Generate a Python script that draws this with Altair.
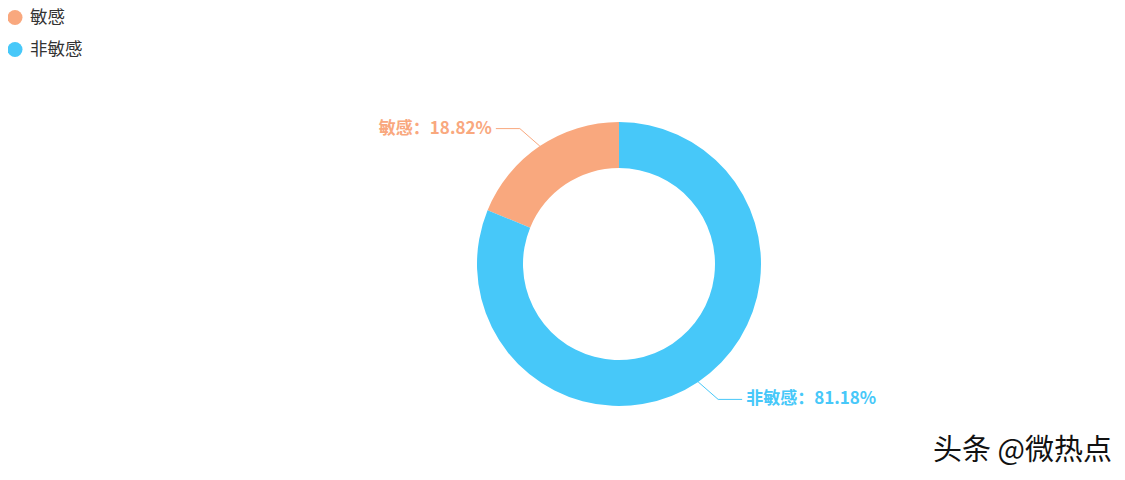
import math
import pandas as pd
import altair as alt

# ---- data ----
categories = ["敏感", "非敏感"]
values = [18.82, 81.18]          # percent
colors = ["#f9a87e", "#47c8f9"]
draw_order = [2, 1]              # 非敏感 drawn first clockwise from 12 o'clock
watermark = "头条 @微热点"

# ---- layout constants ----
W, H = 1109, 460
CX, CY = 611, 256
R_OUT, R_IN = 142, 96
FONT = "Noto Sans CJK SC"

df = pd.DataFrame({"cat": categories, "value": values, "ord": draw_order,
                   "label": [f"{c}：{v:.2f}%" for c, v in zip(categories, values)]})

# mid-angles (clockwise from top), following the stacking order
total = sum(values)
cum = 0.0
mid = {}
for _, row in df.sort_values("ord").iterrows():
    a0 = cum / total * 2 * math.pi
    cum += row["value"]
    a1 = cum / total * 2 * math.pi
    mid[row["cat"]] = (a0 + a1) / 2

line_rows, text_rows = [], []
for _, row in df.iterrows():
    a = mid[row["cat"]]
    sx, sy = math.sin(a), -math.cos(a)
    x0, y0 = CX + R_OUT * sx, CY + R_OUT * sy
    hx = 1 if sx >= 0 else -1
    vy = 1 if sy >= 0 else -1
    x1, y1 = x0 + hx * 20, y0 + vy * 17.5
    x2 = x1 + hx * 24
    for i, (px, py) in enumerate([(x0, y0), (x1, y1), (x2, y1)]):
        line_rows.append({"cat": row["cat"], "i": i, "px": px, "py": py})
    text_rows.append({"cat": row["cat"], "label": row["label"],
                      "px": x2 + hx * 4, "py": y1,
                      "align": "left" if hx > 0 else "right"})
lines = pd.DataFrame(line_rows)
texts = pd.DataFrame(text_rows)

color_scale = alt.Scale(domain=categories, range=colors)
xs = alt.Scale(domain=[0, W], range=[0, W], nice=False, zero=False)
ys = alt.Scale(domain=[0, H], range=[0, H], nice=False, zero=False)

arcs = alt.Chart(df).mark_arc(outerRadius=R_OUT, innerRadius=R_IN).encode(
    theta=alt.Theta("value:Q", stack=True),
    order=alt.Order("ord:Q"),
    color=alt.Color("cat:N", scale=color_scale, legend=None),
    x=alt.value(CX), y=alt.value(CY),
)

leader = alt.Chart(lines).mark_line(strokeWidth=1).encode(
    x=alt.X("px:Q", scale=xs, axis=None),
    y=alt.Y("py:Q", scale=ys, axis=None),
    detail="cat:N",
    order="i:Q",
    color=alt.Color("cat:N", scale=color_scale, legend=None),
)

def label_layer(align):
    return alt.Chart(texts[texts["align"] == align]).mark_text(
        align=align, baseline="middle", font=FONT, fontSize=17, fontWeight="bold"
    ).encode(
        x=alt.X("px:Q", scale=xs, axis=None),
        y=alt.Y("py:Q", scale=ys, axis=None),
        text="label:N",
        color=alt.Color("cat:N", scale=color_scale, legend=None),
    )

leg = pd.DataFrame({"cat": categories})
leg["lx"] = 7
leg["ly"] = [9.5 + 32 * i for i in range(len(categories))]
leg["tx"] = 22

leg_sym = alt.Chart(leg).mark_point(filled=True, shape="circle", size=225, opacity=1).encode(
    x=alt.X("lx:Q", scale=xs, axis=None),
    y=alt.Y("ly:Q", scale=ys, axis=None),
    color=alt.Color("cat:N", scale=color_scale, legend=None),
)
leg_txt = alt.Chart(leg).mark_text(align="left", baseline="middle", font=FONT,
                                   fontSize=17.5, color="#333333").encode(
    x=alt.X("tx:Q", scale=xs, axis=None),
    y=alt.Y("ly:Q", scale=ys, axis=None),
    text="cat:N",
)

wm = alt.Chart(pd.DataFrame({"t": [watermark]})).mark_text(
    align="left", baseline="middle", font=FONT, fontSize=29, color="#111111"
).encode(x=alt.value(925), y=alt.value(443), text="t:N")

chart = alt.layer(arcs, leader, label_layer("left"), label_layer("right"),
                  leg_sym, leg_txt, wm).properties(
    width=W, height=H, padding=0, background="white",
    autosize=alt.AutoSizeParams(type="none"),
).configure_view(
    strokeWidth=0, stroke="transparent"
).configure_axis(
    domain=False, grid=False, ticks=False, labels=False
)

chart.save("out.html", embed_options={"renderer": "svg", "actions": False})
